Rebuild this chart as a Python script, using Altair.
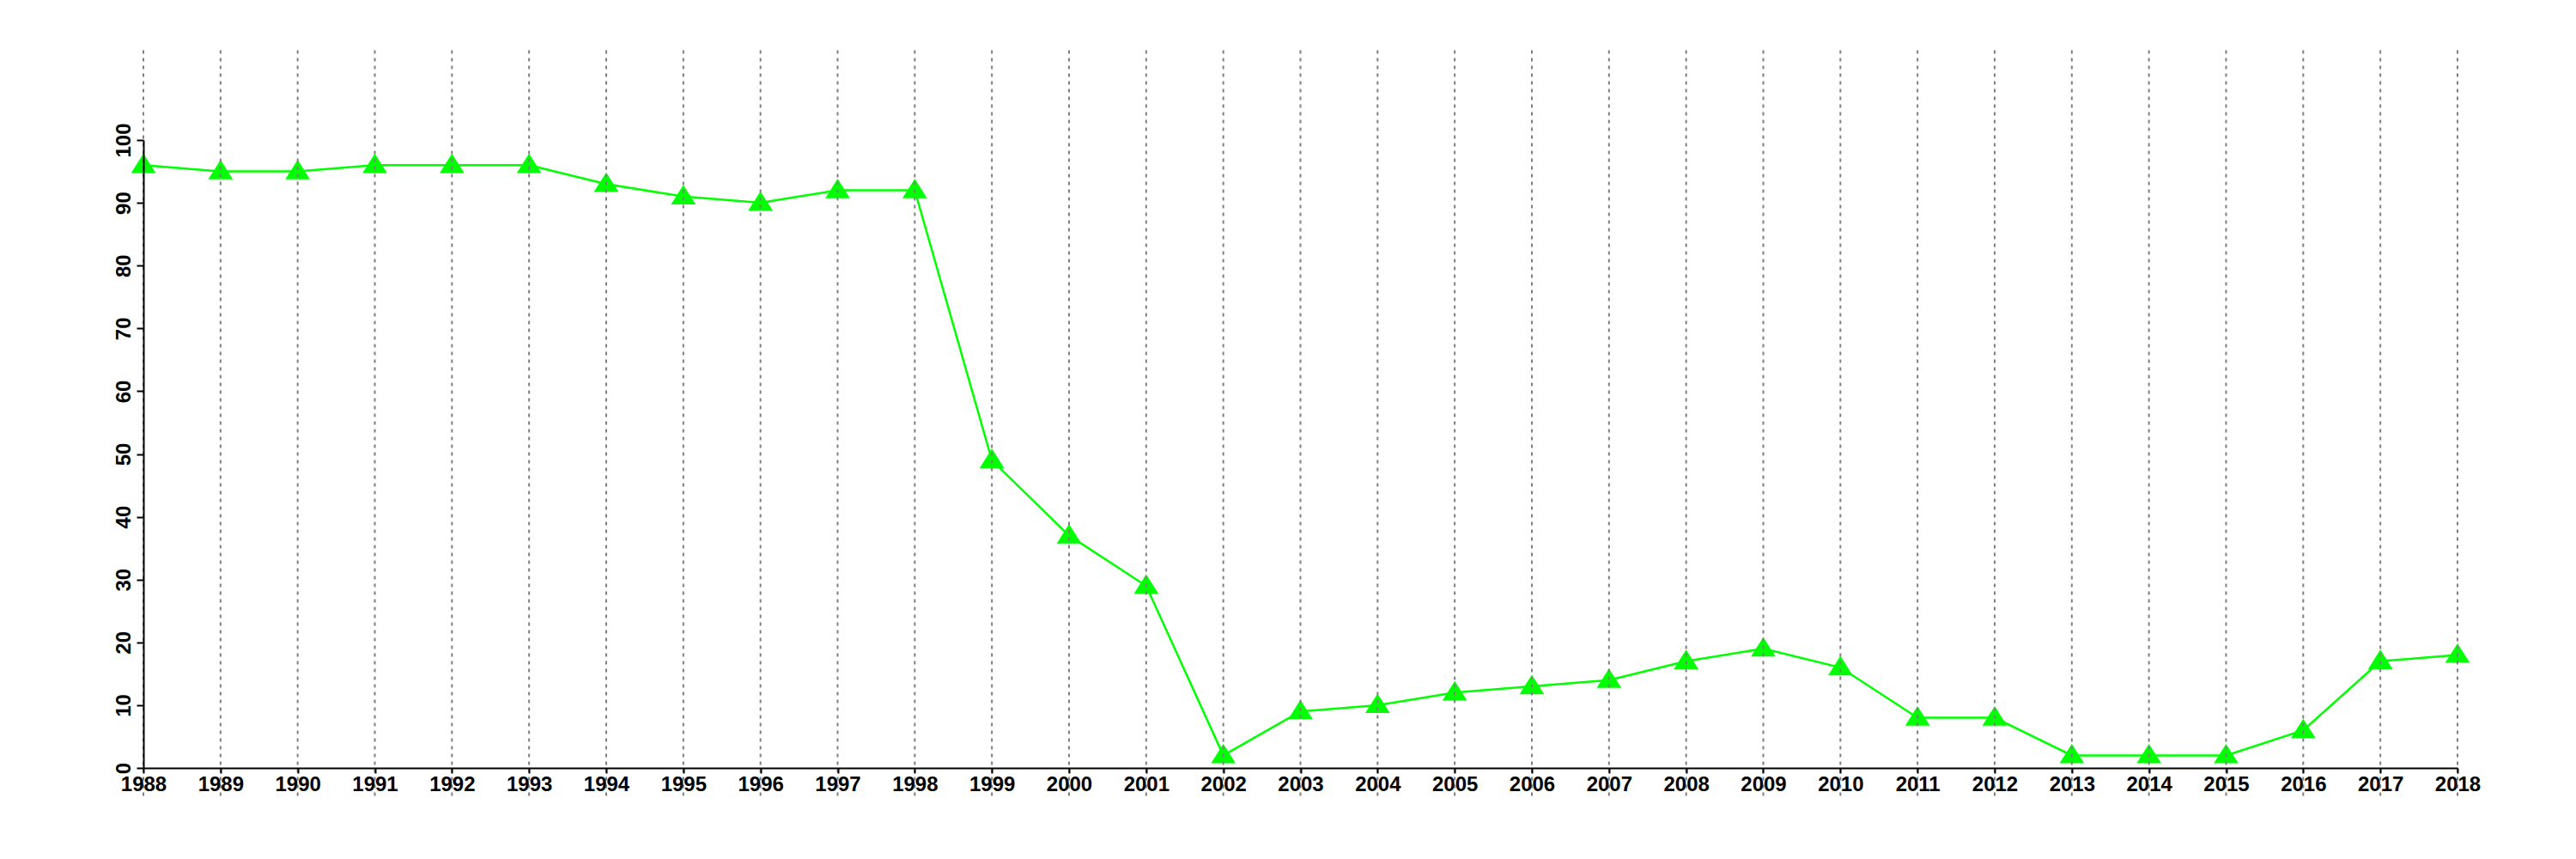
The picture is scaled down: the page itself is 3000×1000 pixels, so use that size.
import altair as alt
import pandas as pd

years = list(range(1988, 2019))
values = [96, 95, 95, 96, 96, 96, 93, 91, 90, 92, 92, 49, 37, 29, 2, 9, 10, 12, 13, 14,
          17, 19, 16, 8, 8, 2, 2, 2, 6, 17, 18]
y_ticks = list(range(0, 101, 10))

df = pd.DataFrame({"year": years, "value": values})
grid_df = pd.DataFrame({"year": years})

FONT = "Liberation Sans"
GREEN = "#00ff00"

x_enc = alt.X(
    "year:Q",
    scale=alt.Scale(domain=[1988, 2018], nice=False, zero=False),
    axis=alt.Axis(
        values=years, format="d", title=None, grid=False,
        labelFont=FONT, labelFontSize=24, labelFontWeight="bold", labelColor="black",
        labelFlush=False, labelOverlap=False, labelPadding=1,
        domainColor="black", domainWidth=2, tickColor="black", tickWidth=2, tickSize=6,
        zindex=1,
    ),
)
y_enc = alt.Y(
    "value:Q",
    scale=alt.Scale(domain=[0, 100], nice=False),
    axis=alt.Axis(
        values=y_ticks, title=None, grid=False,
        labelFont=FONT, labelFontSize=24, labelFontWeight="bold", labelColor="black",
        labelAngle=270, labelAlign="center", labelBaseline="alphabetic", labelPadding=8,
        labelOverlap=False, labelFlush=False,
        domainColor="black", domainWidth=2, tickColor="black", tickWidth=2, tickSize=8,
        zindex=1,
    ),
)

line = alt.Chart(df).mark_line(color=GREEN, strokeWidth=2.5).encode(x=x_enc, y=y_enc)
points = alt.Chart(df).mark_point(
    shape="M-1,0.64L0,-0.94L1,0.64Z", filled=True, size=820, color=GREEN, opacity=1
).encode(x=x_enc, y=y_enc)
grid = alt.Chart(grid_df).mark_rule(
    color="#7f7f7f", strokeWidth=2, strokeDash=[4, 5]
).encode(x="year:Q", y=alt.datum(114.3), y2=alt.datum(-4.6))

chart = alt.layer(line, points, grid).properties(
    width=2695, height=731,
    background="white",
    autosize=alt.AutoSizeParams(type="none"),
    padding={"left": 159, "top": 155, "right": 120, "bottom": 90},
).configure_view(stroke=None, strokeWidth=0)

chart.save("out.html", embed_options={"renderer": "svg", "actions": False})
